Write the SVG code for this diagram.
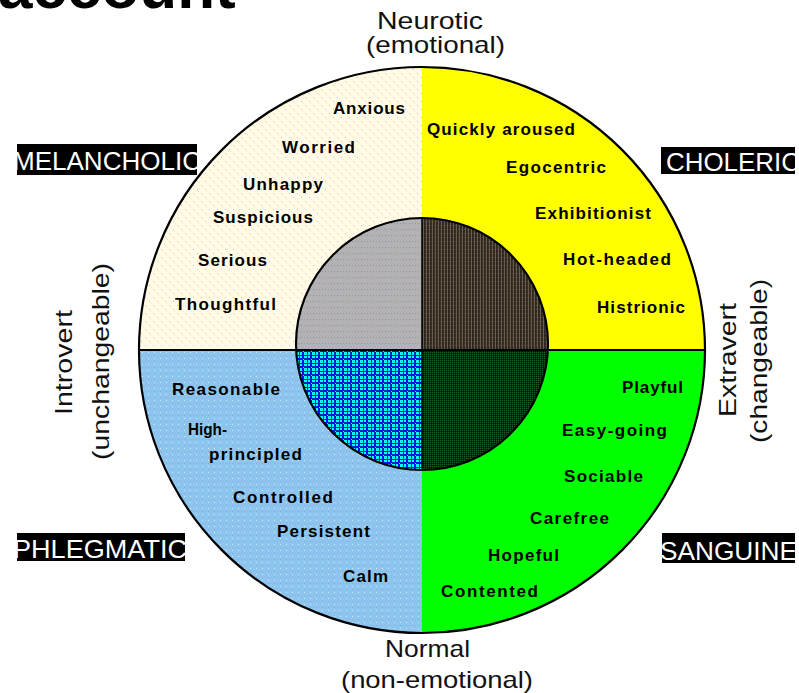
<svg xmlns="http://www.w3.org/2000/svg" width="799" height="693" viewBox="0 0 799 693">
  <style>
    .axis { font-family: "Liberation Sans", Arial, sans-serif; font-size: 24px; fill: #111; }
    .trait { font-family: "Liberation Sans", Arial, sans-serif; font-size: 17px; font-weight: bold; fill: #000; }
    .tag-box { fill: #000; }
    .tag { font-family: "Liberation Sans", Arial, sans-serif; font-size: 26px; fill: #fff; }
    .rim { fill: none; stroke: #000; stroke-width: 2.2; }
    .divider { stroke: #000; stroke-width: 2.2; }
  </style>
  <defs>
    <!-- cream with pink speckle -->
    <pattern id="pat-cream" width="8" height="8" patternUnits="userSpaceOnUse">
      <rect width="8" height="8" fill="#fffbe4"/>
      <rect x="1" y="1" width="1" height="1" fill="#f2a8ee"/>
      <rect x="5" y="5" width="1" height="1" fill="#f2a8ee"/>
      <rect x="3" y="3" width="1" height="1" fill="#fff2a8"/>
      <rect x="7" y="7" width="1" height="1" fill="#fff2a8"/>
    </pattern>
    <!-- light blue with violet speckle -->
    <pattern id="pat-blue" width="6" height="6" patternUnits="userSpaceOnUse">
      <rect width="6" height="6" fill="#8cc6ee"/>
      <rect x="1" y="1" width="1" height="1" fill="#b49cf0"/>
      <rect x="4" y="4" width="1" height="1" fill="#d8e4fa"/>
      <rect x="4" y="1" width="1" height="1" fill="#7aaee0"/>
    </pattern>
    <!-- grey speckle -->
    <pattern id="pat-grey" width="6" height="6" patternUnits="userSpaceOnUse">
      <rect width="6" height="6" fill="#b2b2b2"/>
      <rect x="1" y="1" width="1" height="1" fill="#8a8cc4"/>
      <rect x="4" y="4" width="1" height="1" fill="#d6a8d2"/>
      <rect x="4" y="1" width="1" height="1" fill="#9a9a9a"/>
    </pattern>
    <!-- dark brown vertical stripes -->
    <pattern id="pat-brown" width="3" height="4" patternUnits="userSpaceOnUse">
      <rect width="3" height="4" fill="#2e2820"/>
      <rect x="0" y="0" width="1" height="4" fill="#6a5c48"/>
      <rect x="2" y="1" width="1" height="1" fill="#4a4a40"/>
    </pattern>
    <!-- blue and cyan plaid -->
    <pattern id="pat-plaid" width="8" height="8" patternUnits="userSpaceOnUse">
      <rect width="8" height="8" fill="#0a10f0"/>
      <rect x="0" y="0" width="3" height="3" fill="#00ffff"/>
      <rect x="4" y="0" width="2" height="3" fill="#00ffff"/>
      <rect x="0" y="4" width="3" height="2" fill="#00ffff"/>
      <rect x="4" y="4" width="2" height="2" fill="#00ffff"/>
      <rect x="7" y="7" width="1" height="1" fill="#00ffff"/>
    </pattern>
    <!-- dark green checker -->
    <pattern id="pat-dgreen" width="2" height="2" patternUnits="userSpaceOnUse">
      <rect width="2" height="2" fill="#0c300c"/>
      <rect x="0" y="0" width="1" height="1" fill="#1e5a1e"/>
      <rect x="1" y="1" width="1" height="1" fill="#020a02"/>
    </pattern>
    <clipPath id="core-clip">
      <circle cx="422" cy="344" r="126"/>
    </clipPath>
    <clipPath id="clip-mel"><rect x="17" y="144" width="180" height="31"/></clipPath>
    <clipPath id="clip-cho"><rect x="661" y="147" width="134" height="27"/></clipPath>
    <clipPath id="clip-phl"><rect x="17" y="533" width="168" height="28"/></clipPath>
    <clipPath id="clip-san"><rect x="662" y="533" width="133" height="30"/></clipPath>
  </defs>

  <rect width="799" height="693" fill="#fff"/>

  <!-- heading fragment along the top edge -->
  <text x="-2" y="8" font-family="Liberation Sans, Arial, sans-serif" font-size="62" font-weight="bold" fill="#000">account</text>

  <!-- outer ring quadrants -->
  <g id="melancholic">
    <path d="M422,350 L139,350 A283,283 0 0 1 422,67 Z" fill="url(#pat-cream)"/>
    <text class="trait" x="333" y="114" textLength="72" lengthAdjust="spacing">Anxious</text>
    <text class="trait" x="282" y="153" textLength="73" lengthAdjust="spacing">Worried</text>
    <text class="trait" x="243" y="190" textLength="80" lengthAdjust="spacing">Unhappy</text>
    <text class="trait" x="213" y="223" textLength="100" lengthAdjust="spacing">Suspicious</text>
    <text class="trait" x="198" y="266" textLength="69" lengthAdjust="spacing">Serious</text>
    <text class="trait" x="175" y="310" textLength="101" lengthAdjust="spacing">Thoughtful</text>
  </g>
  <g id="choleric">
    <path d="M422,350 L422,67 A283,283 0 0 1 705,350 Z" fill="#ffff00"/>
    <text class="trait" x="427" y="135" textLength="148" lengthAdjust="spacing">Quickly aroused</text>
    <text class="trait" x="506" y="173" textLength="100" lengthAdjust="spacing">Egocentric</text>
    <text class="trait" x="535" y="219" textLength="116" lengthAdjust="spacing">Exhibitionist</text>
    <text class="trait" x="563" y="265" textLength="108" lengthAdjust="spacing">Hot-headed</text>
    <text class="trait" x="597" y="313" textLength="88" lengthAdjust="spacing">Histrionic</text>
  </g>
  <g id="sanguine">
    <path d="M422,350 L705,350 A283,283 0 0 1 422,633 Z" fill="#00ff00"/>
    <text class="trait" x="622" y="393" textLength="61" lengthAdjust="spacing">Playful</text>
    <text class="trait" x="562" y="436" textLength="105" lengthAdjust="spacing">Easy-going</text>
    <text class="trait" x="564" y="482" textLength="79" lengthAdjust="spacing">Sociable</text>
    <text class="trait" x="530" y="524" textLength="79" lengthAdjust="spacing">Carefree</text>
    <text class="trait" x="488" y="561" textLength="71" lengthAdjust="spacing">Hopeful</text>
    <text class="trait" x="441" y="597" textLength="97" lengthAdjust="spacing">Contented</text>
  </g>
  <g id="phlegmatic">
    <path d="M422,350 L422,633 A283,283 0 0 1 139,350 Z" fill="url(#pat-blue)"/>
    <text class="trait" x="172" y="395" textLength="108" lengthAdjust="spacing">Reasonable</text>
    <text class="trait" x="188" y="435" textLength="39" lengthAdjust="spacingAndGlyphs">High-</text>
    <text class="trait" x="209" y="460" textLength="93" lengthAdjust="spacing">principled</text>
    <text class="trait" x="233" y="503" textLength="100" lengthAdjust="spacing">Controlled</text>
    <text class="trait" x="277" y="537" textLength="93" lengthAdjust="spacing">Persistent</text>
    <text class="trait" x="343" y="582" textLength="45" lengthAdjust="spacing">Calm</text>
  </g>

  <!-- inner core, split into four shaded quarters -->
  <g id="core">
    <g clip-path="url(#core-clip)">
      <rect x="290" y="210" width="132" height="140" fill="url(#pat-grey)"/>
      <rect x="422" y="210" width="132" height="140" fill="url(#pat-brown)"/>
      <rect x="290" y="350" width="132" height="130" fill="url(#pat-plaid)"/>
      <rect x="422" y="350" width="132" height="130" fill="url(#pat-dgreen)"/>
      <line x1="422" y1="210" x2="422" y2="480" stroke="#000" stroke-width="1.5"/>
    </g>
    <circle class="rim" cx="422" cy="344" r="126"/>
  </g>

  <!-- ring outline and the horizontal split -->
  <g id="connectors">
    <circle class="rim" cx="422" cy="350" r="283"/>
    <line class="divider" x1="139" y1="350" x2="705" y2="350"/>
  </g>

  <!-- axis captions -->
  <g id="axis-top">
    <text class="axis" x="377" y="29" textLength="106" lengthAdjust="spacingAndGlyphs">Neurotic</text>
    <text class="axis" x="366" y="53" textLength="139" lengthAdjust="spacingAndGlyphs">(emotional)</text>
  </g>
  <g id="axis-bottom">
    <text class="axis" x="385" y="657" textLength="85" lengthAdjust="spacingAndGlyphs">Normal</text>
    <text class="axis" x="341" y="688" textLength="192" lengthAdjust="spacingAndGlyphs">(non-emotional)</text>
  </g>
  <g id="axis-left">
    <text class="axis" transform="translate(72,415) rotate(-90)" textLength="105" lengthAdjust="spacingAndGlyphs">Introvert</text>
    <text class="axis" transform="translate(109,460) rotate(-90)" textLength="197" lengthAdjust="spacingAndGlyphs">(unchangeable)</text>
  </g>
  <g id="axis-right">
    <text class="axis" transform="translate(736,417) rotate(-90)" textLength="114" lengthAdjust="spacingAndGlyphs">Extravert</text>
    <text class="axis" transform="translate(767,443) rotate(-90)" textLength="164" lengthAdjust="spacingAndGlyphs">(changeable)</text>
  </g>

  <!-- temperament tags -->
  <g id="tag-melancholic">
    <rect class="tag-box" x="17" y="144" width="180" height="31"/>
    <text class="tag" x="13" y="170" textLength="188" lengthAdjust="spacingAndGlyphs" clip-path="url(#clip-mel)">MELANCHOLIC</text>
  </g>
  <g id="tag-choleric">
    <rect class="tag-box" x="661" y="147" width="134" height="27"/>
    <text class="tag" x="666" y="171" textLength="134" lengthAdjust="spacingAndGlyphs" clip-path="url(#clip-cho)">CHOLERIC</text>
  </g>
  <g id="tag-phlegmatic">
    <rect class="tag-box" x="17" y="533" width="168" height="28"/>
    <text class="tag" x="13" y="558" textLength="174" lengthAdjust="spacingAndGlyphs" clip-path="url(#clip-phl)">PHLEGMATIC</text>
  </g>
  <g id="tag-sanguine">
    <rect class="tag-box" x="662" y="533" width="133" height="30"/>
    <text class="tag" x="660" y="560" textLength="137" lengthAdjust="spacingAndGlyphs" clip-path="url(#clip-san)">SANGUINE</text>
  </g>
</svg>
